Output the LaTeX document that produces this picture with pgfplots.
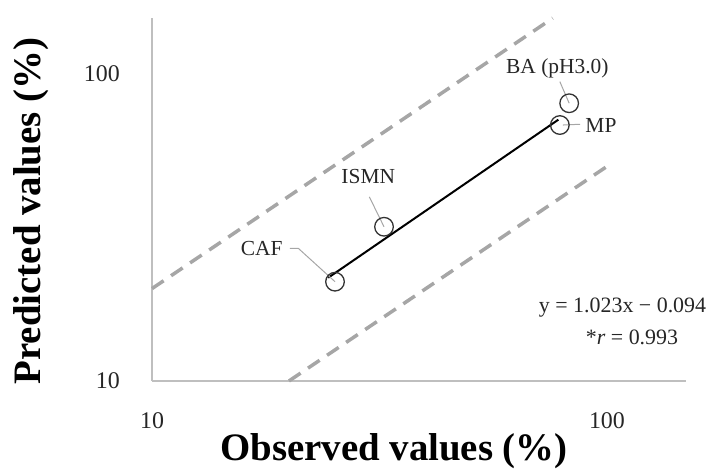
\documentclass[border=0pt]{standalone}
\usepackage{fontspec}
\setmainfont{Liberation Serif}
\usepackage{pgfplots}
\pgfplotsset{compat=1.18}
\usetikzlibrary{calc}
\definecolor{axgray}{HTML}{BFBFBF}
\definecolor{dashgray}{HTML}{A6A6A6}
\definecolor{txt}{HTML}{262626}
\begin{document}
\begin{tikzpicture}
\begin{axis}[name=ax, scale only axis, width=534bp, height=363bp,
  xmode=log, ymode=log, xmin=10, xmax=149.2, ymin=10, ymax=152.2,
  axis x line*=bottom, axis y line*=left,
  axis line style={draw=axgray, line width=1.3bp},
  xtick={10,100}, ytick={10,100}, xticklabels={10,100}, yticklabels={10,100},
  minor xtick={}, minor ytick={},
  major tick length=0pt, minor tick length=0pt,
  tick style={draw=none},
  xticklabel style={anchor=center, yshift=-40bp, inner sep=0pt, text=txt, font=\fontsize{24}{28}\selectfont},
  yticklabel style={anchor=east, xshift=-32bp, inner sep=0pt, text=txt, font=\fontsize{24}{28}\selectfont},
  clip=false,
]
\addplot[dashgray, line width=3.5bp, dash pattern=on 14bp off 9bp] coordinates {(10,20) (76,152)};
\addplot[dashgray, line width=3.5bp, dash pattern=on 14bp off 9bp] coordinates {(20,10) (100,50)};
\addplot[black, line width=2bp] coordinates {(24.4,21.7) (78.2,71)};
\addplot[dashgray, line width=1bp] coordinates {(20.1,27.05) (20.97,27.05) (25.25,21.06)};
\addplot[dashgray, line width=1bp] coordinates {(30.04,39.8) (32.36,31.8)};
\addplot[dashgray, line width=1bp] coordinates {(78.8,94.4) (82.6,80.3)};
\addplot[dashgray, line width=1bp] coordinates {(80,68.2) (87.3,68.6)};
\addplot[only marks, mark=o, mark size=9.3bp, mark options={draw=black!80, line width=1.3bp}]
  coordinates {(25.25,21.06) (32.36,31.8) (78.8,68.2) (82.6,80.3)};
\node[text=txt, font=\fontsize{21.5}{25}\selectfont] at (axis cs:17.42,27.05) {CAF};
\node[text=txt, font=\fontsize{21.5}{25}\selectfont] at (axis cs:29.88,46.5) {ISMN};
\node[text=txt, font=\fontsize{21.5}{25}\selectfont] at (axis cs:77.8,104.4) {BA (pH3.0)};
\node[text=txt, font=\fontsize{21.5}{25}\selectfont] at (axis cs:97.0,68.2) {MP};
\node[text=txt, font=\fontsize{22}{26}\selectfont] at (axis cs:108.2,17.4) {y = 1.023x − 0.094};
\node[text=txt, font=\fontsize{22}{26}\selectfont] at (axis cs:113.5,13.9) {*\textit{r} = 0.993};
\end{axis}
\node[rotate=90, font=\fontsize{39}{43}\selectfont\bfseries] at ($(ax.south west)+(-121bp,170bp)$) {Predicted values (\%)};
\node[font=\fontsize{39}{43}\selectfont\bfseries] at ($(ax.south west)+(242bp,-70bp)$) {Observed values (\%)};
\pgfresetboundingbox
\path ($(ax.south west)+(-152bp,-94bp)$) rectangle ($(ax.north east)+(24bp,18bp)$);
\end{tikzpicture}
\end{document}
